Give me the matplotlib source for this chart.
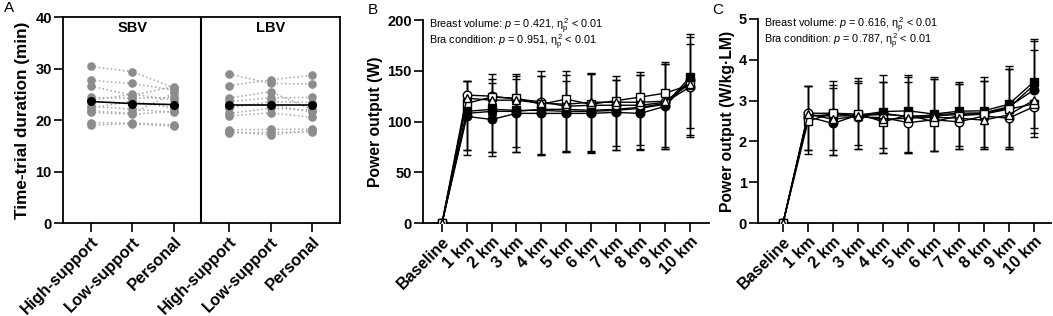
#!/usr/bin/env python3
# -*- coding: utf-8 -*-

import numpy as np
import matplotlib
matplotlib.use("Agg")
import matplotlib.pyplot as plt

plt.rcParams['font.family'] = ['Liberation Sans', 'DejaVu Sans']
plt.rcParams['mathtext.fontset'] = 'custom'
plt.rcParams['mathtext.rm'] = 'Liberation Sans'
plt.rcParams['mathtext.it'] = 'Liberation Sans:italic'

# ---------------------------------------------------------------- datos panel A
condiciones = ['High-support', 'Low-support', 'Personal']

# una fila por participante: High, Low, Personal (min)
sbvParticipantes = [
    [30.4, 29.4, 26.3],
    [27.7, 27.1, 25.8],
    [26.6, 24.8, 26.5],
    [24.4, 24.2, 24.4],
    [23.8, 25.0, 23.9],
    [22.3, 23.7, 22.3],
    [21.8, 21.3, 25.2],
    [21.5, 21.1, 21.7],
    [22.7, 22.1, 21.5],
    [19.5, 19.4, 19.1],
    [19.0, 19.3, 18.8],
]
sbvMedia = [23.6, 23.2, 23.0]

lbvParticipantes = [
    [28.9, 27.1, 27.0],
    [26.7, 27.8, 28.7],
    [24.3, 25.5, 22.0],
    [23.6, 24.3, 24.4],
    [22.3, 23.6, 23.4],
    [21.3, 22.3, 21.9],
    [20.8, 21.4, 20.5],
    [22.8, 23.0, 21.5],
    [18.1, 18.2, 18.2],
    [17.5, 17.6, 17.7],
    [17.8, 17.1, 18.0],
]
lbvMedia = [22.9, 22.9, 22.9]

# ---------------------------------------------------------------- datos panel B y C
etapas = ['Baseline', '1 km', '2 km', '3 km', '4 km', '5 km', '6 km', '7 km', '8 km', '9 km', '10 km']

# potencia (W)
wSbvHigh = [0, 105, 102, 108, 108, 108, 108, 109, 108, 115, 141]
wSbvLow = [0, 110, 112, 111, 111, 110, 110, 111, 113, 117, 143.5]
wSbvPers = [0, 108, 110, 110, 112, 112, 111, 112, 114, 118, 140]
wLbvHigh = [0, 126, 125, 122, 119.5, 115, 116, 116, 116, 119, 134]
wLbvLow = [0, 118, 124, 123, 117, 122, 117, 120.5, 124, 128, 136]
wLbvPers = [0, 123, 121, 121, 118, 117, 119, 119, 119, 120, 137]

# SD hacia arriba (SBV) y hacia abajo (LBV)
sdSbvHigh = [0, 35, 35.6, 33.5, 36.6, 32, 40, 32, 38, 42, 35]
sdSbvLow = [0, 30, 34.5, 35.5, 39, 40, 37, 34, 36, 42, 42.5]
sdSbvPers = [0, 32, 31.5, 34.6, 32.6, 34, 36, 29, 32, 39, 43]
sdLbvHigh = [0, 59, 59, 52, 52.5, 45, 47, 44, 44, 46.4, 49.5]
sdLbvLow = [0, 46, 54, 48, 49, 51, 46.5, 44.5, 47, 53.4, 42]
sdLbvPers = [0, 51, 51, 51, 51, 47, 49, 47, 46.4, 47.4, 50]

# potencia relativa (W/kg LM)
rSbvHigh = [0, 2.60, 2.44, 2.65, 2.69, 2.60, 2.65, 2.69, 2.70, 2.85, 3.26]
rSbvLow = [0, 2.62, 2.66, 2.64, 2.73, 2.75, 2.67, 2.74, 2.75, 2.91, 3.46]
rSbvPers = [0, 2.64, 2.62, 2.63, 2.66, 2.62, 2.62, 2.66, 2.68, 2.82, 3.38]
rLbvHigh = [0, 2.69, 2.69, 2.60, 2.58, 2.46, 2.53, 2.48, 2.62, 2.57, 2.85]
rLbvLow = [0, 2.50, 2.69, 2.67, 2.48, 2.65, 2.48, 2.63, 2.67, 2.79, 2.92]
rLbvPers = [0, 2.67, 2.54, 2.62, 2.54, 2.57, 2.59, 2.57, 2.52, 2.65, 3.01]

rsdSbvHigh = [0, 0.76, 0.86, 0.79, 0.77, 0.86, 0.88, 0.72, 0.79, 0.92, 0.99]
rsdSbvLow = [0, 0.74, 0.83, 0.91, 0.90, 0.88, 0.92, 0.72, 0.84, 0.94, 1.04]
rsdSbvPers = [0, 0.72, 0.76, 0.86, 0.80, 0.95, 0.91, 0.75, 0.81, 0.95, 1.07]
rsdLbvHigh = [0, 1.00, 1.02, 0.79, 0.87, 0.75, 0.76, 0.67, 0.81, 0.76, 0.75]
rsdLbvLow = [0, 0.71, 0.90, 0.76, 0.65, 0.90, 0.71, 0.74, 0.81, 0.93, 0.60]
rsdLbvPers = [0, 0.88, 0.87, 0.81, 0.83, 0.86, 0.82, 0.76, 0.71, 0.84, 0.81]

# ************************************************************************************************

def estiloEjes(ax):
    for s in ax.spines.values():
        s.set_linewidth(1.3)
    ax.tick_params(direction='out', length=6.5, width=1.2, pad=1.5)
    ax.tick_params(axis='y', labelsize=10.5)
    ax.tick_params(axis='x', labelsize=11.8)
    for lb in ax.get_yticklabels() + ax.get_xticklabels():
        lb.set_fontweight('bold')


def graficarSerie(ax, x, y, sd, arriba, marcador, relleno):
    y = np.array(y, dtype=float)
    sd = np.array(sd, dtype=float)
    ceros = np.zeros_like(sd)
    err = [ceros, sd] if arriba else [sd, ceros]
    ax.errorbar(x, y, yerr=err, fmt='none', ecolor='black', elinewidth=1, capsize=3.2, capthick=1, zorder=2)
    ax.plot(x, y, '-', color='black', lw=1, marker=marcador, ms=6.2, mfc=relleno, mec='black', mew=1, zorder=3)


def panelPotencia(ax, series, ymax, ypaso, etiquetaY, texto, xmin, xmax, pad):
    x = np.arange(len(etapas))
    for y, sd, arriba, marcador, relleno in series:
        graficarSerie(ax, x, y, sd, arriba, marcador, relleno)
    ax.set_xlim(xmin, xmax)
    ax.set_ylim(0, ymax)
    ax.set_yticks(np.arange(0, ymax + ypaso / 2, ypaso))
    ax.set_xticks(x)
    ax.set_xticklabels(etapas, rotation=45, ha='right', rotation_mode='anchor')
    ax.spines['top'].set_visible(False)
    ax.spines['right'].set_visible(False)
    ax.spines['left'].set_bounds(0, ymax)
    ax.set_ylabel(etiquetaY, fontsize=11.3, fontweight='bold', labelpad=pad)
    estiloEjes(ax)
    # las dos lineas de estadistica en un solo texto
    ax.text(0.022, 1.015, texto, transform=ax.transAxes, fontsize=7.8, va='top', ha='left', linespacing=0.66)


fig = plt.figure(figsize=(10.53, 3.16), dpi=100)

# ---------------------------------------------------------------- panel A
axA = fig.add_axes([0.0598, 0.2943, 0.2631, 0.6517])

posSbv = np.array([0, 1, 2])
posLbv = posSbv + 10 / 3

for fila in sbvParticipantes:
    axA.plot(posSbv, fila, ':', color='#a6a6a6', lw=1.1, marker='o', ms=5.2, mfc='#8c8c8c', mec='#8c8c8c', zorder=2)
for fila in lbvParticipantes:
    axA.plot(posLbv, fila, ':', color='#a6a6a6', lw=1.1, marker='o', ms=5.2, mfc='#8c8c8c', mec='#8c8c8c', zorder=2)

axA.plot(posSbv, sbvMedia, '-', color='black', lw=1.2, marker='o', ms=5.5, zorder=3)
axA.plot(posLbv, lbvMedia, '-', color='black', lw=1.2, marker='o', ms=5.5, zorder=3)

axA.axvline(2 + 2 / 3, color='black', lw=1.5)
axA.set_xlim(-2 / 3, 6)
axA.set_ylim(0, 40)
axA.set_yticks([0, 10, 20, 30, 40])
axA.set_xticks(list(posSbv) + list(posLbv))
axA.set_xticklabels(condiciones + condiciones, rotation=45, ha='right', rotation_mode='anchor')
axA.set_ylabel('Time-trial duration (min)', fontsize=12.3, fontweight='bold', labelpad=4)
estiloEjes(axA)
axA.text(1, 37.9, 'SBV', ha='center', va='center', fontsize=10.5, fontweight='bold')
axA.text(1 + 10 / 3, 37.9, 'LBV', ha='center', va='center', fontsize=10.5, fontweight='bold')

# ---------------------------------------------------------------- panel B
axB = fig.add_axes([0.4017, 0.2943, 0.2716, 0.6424])
seriesB = [
    (wSbvHigh, sdSbvHigh, True, 'o', 'black'),
    (wSbvLow, sdSbvLow, True, 's', 'black'),
    (wSbvPers, sdSbvPers, True, '^', 'black'),
    (wLbvHigh, sdLbvHigh, False, 'o', 'white'),
    (wLbvLow, sdLbvLow, False, 's', 'white'),
    (wLbvPers, sdLbvPers, False, '^', 'white'),
]
panelPotencia(axB, seriesB, 200, 50, 'Power output (W)',
              'Breast volume: $p$ = 0.421, $\\mathregular{\\eta_p^{\\,2}}$ < 0.01\n'
              'Bra condition: $p$ = 0.951, $\\mathregular{\\eta_p^{\\,2}}$ < 0.01', -0.77, 10.77, 3)

# ---------------------------------------------------------------- panel C
axC = fig.add_axes([0.7198, 0.2943, 0.2782, 0.6456])
seriesC = [
    (rSbvHigh, rsdSbvHigh, True, 'o', 'black'),
    (rSbvLow, rsdSbvLow, True, 's', 'black'),
    (rSbvPers, rsdSbvPers, True, '^', 'black'),
    (rLbvHigh, rsdLbvHigh, False, 'o', 'white'),
    (rLbvLow, rsdLbvLow, False, 's', 'white'),
    (rLbvPers, rsdLbvPers, False, '^', 'white'),
]
panelPotencia(axC, seriesC, 5, 1, 'Power output (W/kg\u00b7LM)',
              'Breast volume: $p$ = 0.616, $\\mathregular{\\eta_p^{\\,2}}$ < 0.01\n'
              'Bra condition: $p$ = 0.787, $\\mathregular{\\eta_p^{\\,2}}$ < 0.01', -1.0, 10.68, 2.5)

# letras de panel
fig.text(0.004, 0.975, 'A', fontsize=11, va='center')
fig.text(0.349, 0.968, 'B', fontsize=11, va='center')
fig.text(0.676, 0.968, 'C', fontsize=11, va='center')

fig.savefig('out.png', dpi=100)
